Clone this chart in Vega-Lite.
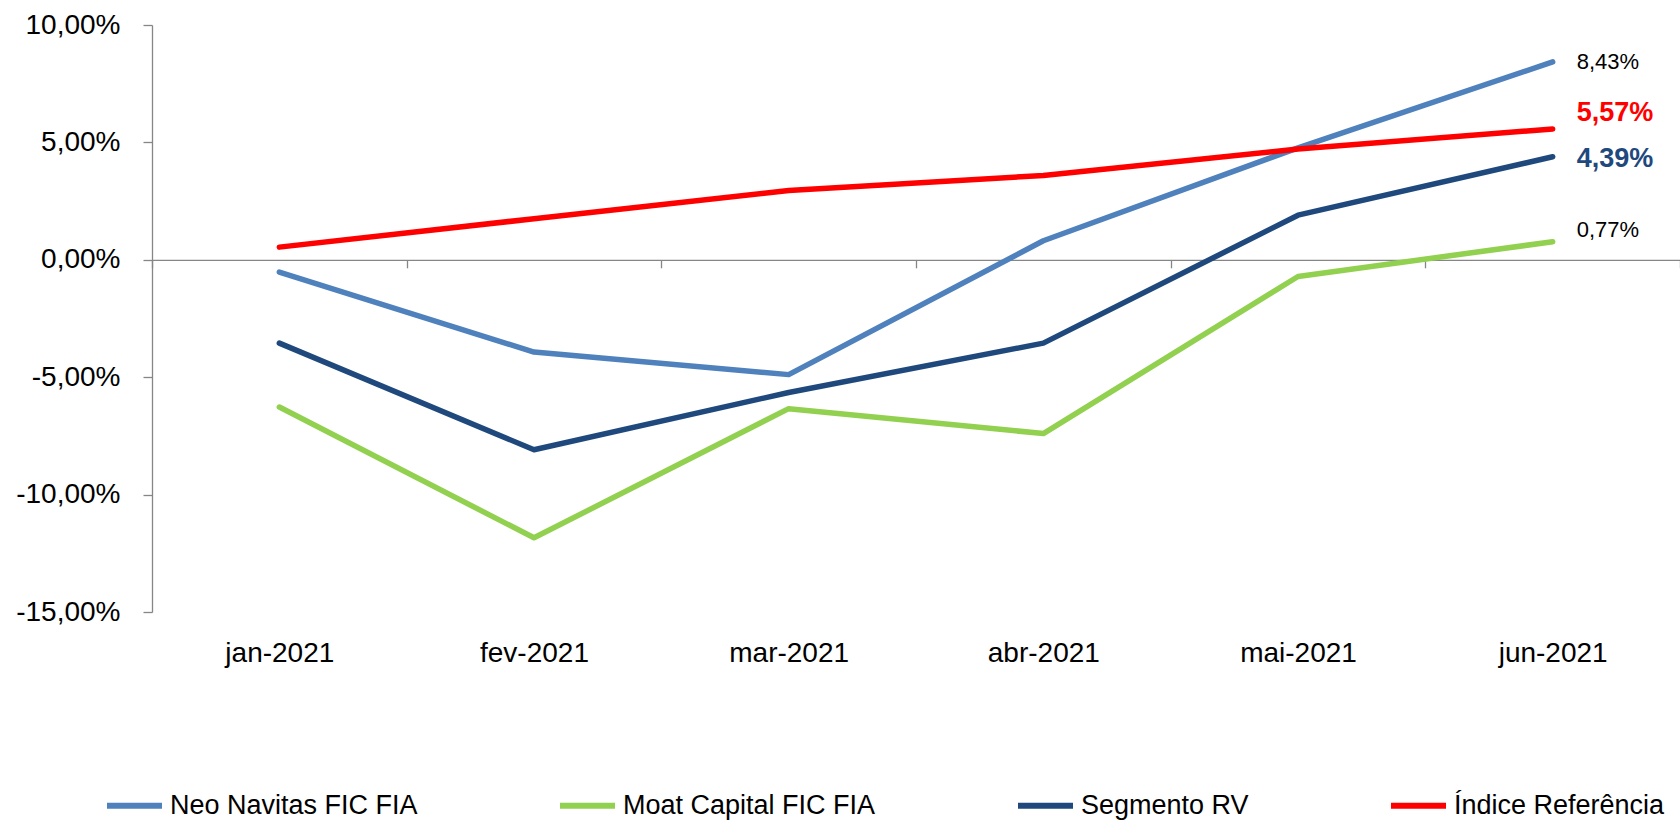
{
  "$schema": "https://vega.github.io/schema/vega-lite/v6.json",
  "width": 1528,
  "height": 587,
  "autosize": {"type": "none"},
  "padding": {"left": 152, "top": 25, "right": 0, "bottom": 209},
  "background": "white",
  "config": {
    "view": {"stroke": null},
    "font": "Liberation Sans",
    "locale": {"number": {"decimal": ",", "thousands": ".", "grouping": [3], "currency": ["R$", ""], "minus": "-"}}
  },
  "data": {
    "values": [
      {"mes": "jan-2021", "serie": "Neo Navitas FIC FIA", "v": -0.52},
      {"mes": "fev-2021", "serie": "Neo Navitas FIC FIA", "v": -3.93},
      {"mes": "mar-2021", "serie": "Neo Navitas FIC FIA", "v": -4.89},
      {"mes": "abr-2021", "serie": "Neo Navitas FIC FIA", "v": 0.81},
      {"mes": "mai-2021", "serie": "Neo Navitas FIC FIA", "v": 4.77},
      {"mes": "jun-2021", "serie": "Neo Navitas FIC FIA", "v": 8.43},
      {"mes": "jan-2021", "serie": "Moat Capital FIC FIA", "v": -6.27},
      {"mes": "fev-2021", "serie": "Moat Capital FIC FIA", "v": -11.84},
      {"mes": "mar-2021", "serie": "Moat Capital FIC FIA", "v": -6.34},
      {"mes": "abr-2021", "serie": "Moat Capital FIC FIA", "v": -7.40},
      {"mes": "mai-2021", "serie": "Moat Capital FIC FIA", "v": -0.71},
      {"mes": "jun-2021", "serie": "Moat Capital FIC FIA", "v": 0.77},
      {"mes": "jan-2021", "serie": "Segmento RV", "v": -3.55},
      {"mes": "fev-2021", "serie": "Segmento RV", "v": -8.09},
      {"mes": "mar-2021", "serie": "Segmento RV", "v": -5.65},
      {"mes": "abr-2021", "serie": "Segmento RV", "v": -3.55},
      {"mes": "mai-2021", "serie": "Segmento RV", "v": 1.90},
      {"mes": "jun-2021", "serie": "Segmento RV", "v": 4.39},
      {"mes": "jan-2021", "serie": "Índice Referência", "v": 0.54},
      {"mes": "fev-2021", "serie": "Índice Referência", "v": 1.75},
      {"mes": "mar-2021", "serie": "Índice Referência", "v": 2.95},
      {"mes": "abr-2021", "serie": "Índice Referência", "v": 3.59},
      {"mes": "mai-2021", "serie": "Índice Referência", "v": 4.72},
      {"mes": "jun-2021", "serie": "Índice Referência", "v": 5.57}
    ]
  },
  "encoding": {
    "x": {
      "field": "mes", "type": "ordinal", "sort": null, "bandPosition": 0.5,
      "scale": {"type": "band", "paddingInner": 0, "paddingOuter": 0},
      "axis": {
        "title": null, "offset": -352.2, "domainColor": "#868686", "domainWidth": 1.3,
        "tickColor": "#868686", "tickWidth": 1.3, "tickSize": 8, "tickBand": "extent",
        "labelPadding": 372, "labelFontSize": 28, "labelColor": "#000000", "labelAngle": 0,
        "labelFont": "Liberation Sans"
      }
    },
    "y": {
      "field": "v", "type": "quantitative",
      "scale": {"domain": [-15, 10], "nice": false, "zero": false},
      "axis": {
        "title": null, "values": [-15, -10, -5, 0, 5, 10], "grid": false,
        "domainColor": "#868686", "domainWidth": 1.3, "tickColor": "#868686", "tickWidth": 1.3,
        "tickSize": 9, "labelPadding": 23, "labelFontSize": 28, "labelColor": "#000000",
        "labelFont": "Liberation Sans",
        "labelExpr": "replace(replace(format(datum.value, '.2f'), '.', ','), '\u2212', '-') + '%'"
      }
    }
  },
  "layer": [
    {
      "mark": {"type": "line", "strokeWidth": 5.5, "strokeCap": "round", "strokeJoin": "round"},
      "encoding": {
        "color": {
          "field": "serie", "type": "nominal",
          "sort": ["Neo Navitas FIC FIA", "Moat Capital FIC FIA", "Segmento RV", "Índice Referência"],
          "scale": {
            "domain": ["Neo Navitas FIC FIA", "Moat Capital FIC FIA", "Segmento RV", "Índice Referência"],
            "range": ["#4F81BD", "#92D050", "#1F497D", "#FF0000"]
          },
          "legend": {
            "orient": "none", "legendX": -48, "legendY": 750, "direction": "horizontal", "columns": 4,
            "title": null, "symbolType": "stroke", "symbolSize": 3025, "symbolStrokeWidth": 6,
            "labelFontSize": 27, "labelFont": "Liberation Sans", "labelColor": "#000000",
            "labelLimit": 0, "labelOffset": 5, "columnPadding": 130
          }
        }
      }
    },
    {
      "transform": [
        {"filter": "datum.mes == 'jun-2021' && datum.serie == 'Neo Navitas FIC FIA'"},
        {"calculate": "replace(replace(format(datum.v, '.2f'), '.', ','), '\u2212', '-') + '%'", "as": "lbl"}
      ],
      "mark": {"type": "text", "align": "left", "baseline": "middle", "dx": 24, "dy": 0, "fontSize": 22, "color": "#000000"},
      "encoding": {"text": {"field": "lbl"}}
    },
    {
      "transform": [
        {"filter": "datum.mes == 'jun-2021' && datum.serie == 'Moat Capital FIC FIA'"},
        {"calculate": "replace(replace(format(datum.v, '.2f'), '.', ','), '\u2212', '-') + '%'", "as": "lbl"}
      ],
      "mark": {"type": "text", "align": "left", "baseline": "middle", "dx": 24, "dy": -12, "fontSize": 22, "color": "#000000"},
      "encoding": {"text": {"field": "lbl"}}
    },
    {
      "transform": [
        {"filter": "datum.mes == 'jun-2021' && datum.serie == 'Segmento RV'"},
        {"calculate": "replace(replace(format(datum.v, '.2f'), '.', ','), '\u2212', '-') + '%'", "as": "lbl"}
      ],
      "mark": {"type": "text", "align": "left", "baseline": "middle", "dx": 24, "dy": 2, "fontSize": 27, "fontWeight": "bold", "color": "#1F497D"},
      "encoding": {"text": {"field": "lbl"}}
    },
    {
      "transform": [
        {"filter": "datum.mes == 'jun-2021' && datum.serie == 'Índice Referência'"},
        {"calculate": "replace(replace(format(datum.v, '.2f'), '.', ','), '\u2212', '-') + '%'", "as": "lbl"}
      ],
      "mark": {"type": "text", "align": "left", "baseline": "middle", "dx": 24, "dy": -16, "fontSize": 27, "fontWeight": "bold", "color": "#FF0000"},
      "encoding": {"text": {"field": "lbl"}}
    }
  ]
}
